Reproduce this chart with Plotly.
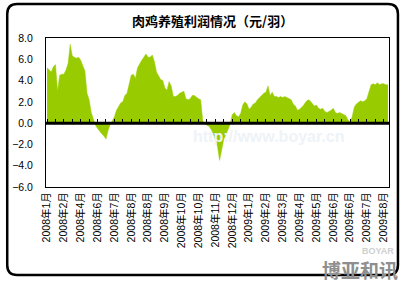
import plotly.graph_objects as go

title_text = "肉鸡养殖利润情况（元/羽）"

tick_labels = ["2008年1月", "2008年2月", "2008年4月", "2008年6月", "2008年7月",
               "2008年8月", "2008年8月", "2008年9月", "2008年10月", "2008年10月",
               "2008年11月", "2008年12月", "2009年1月", "2009年2月", "2009年3月",
               "2009年4月", "2009年5月", "2009年6月", "2009年6月", "2009年7月",
               "2009年8月"]

profit = [
    5.2, 5.0, 4.8, 5.3, 5.5, 3.0, 4.5, 4.6, 4.6, 5.0,
    5.6, 7.4, 6.3, 6.2, 6.1, 6.2, 5.9, 5.4, 4.9, 2.8,
    2.2, 1.0, 0.3, -0.2, -0.5, -0.8, -1.0, -1.2, -1.5, -0.7,
    -0.1, 0.2, 0.6, 1.2, 1.6, 1.9, 2.0, 2.6, 2.8, 3.6,
    4.5, 4.6, 4.2, 5.2, 5.6, 5.9, 6.2, 6.5, 6.2, 6.2,
    6.4, 5.8, 4.8, 4.5, 4.1, 4.0, 3.3, 3.1, 3.9, 3.5,
    2.5, 2.5, 2.6, 2.8, 2.9, 3.0, 2.3, 2.2, 2.3, 2.6,
    2.6, 2.4, 2.3, 2.2, 0.2, -0.1, -0.2, -0.3, -0.6, -1.0,
    -1.6, -2.2, -3.5, -2.3, -1.5, -1.1, -0.6, -0.1, 0.8, 1.0,
    0.7, 0.6, 0.9, 1.7, 2.0, 1.8, 1.3, 1.5, 1.8, 1.9,
    2.2, 2.4, 2.6, 2.8, 2.9, 3.5, 2.6, 2.9, 2.5, 2.5,
    2.4, 2.5, 2.4, 2.5, 2.4, 2.3, 2.2, 1.8, 1.6, 1.2,
    1.3, 1.5, 1.7, 2.0, 2.2, 2.1, 1.8, 1.6, 1.7, 1.4,
    1.3, 1.4, 1.1, 1.0, 1.1, 1.2, 1.4, 1.0, 0.9, 1.0,
    0.9, 0.8, 0.7, 0.3, 0.1, 0.6, 1.5, 1.8, 2.0, 2.1,
    2.0, 2.1, 2.3, 3.0, 3.6, 3.7, 3.6, 3.8, 3.6, 3.7,
    3.7, 3.6, 3.6,
]

label_step = 8
n = len(profit)
xs = list(range(n))
tickvals = [i * label_step for i in range(len(tick_labels))]
minor_ticks = list(range(0, n, 4))

W, H = 405, 283
ML, MR, MT, MB = 44, 16, 38, 96
PW, PH = W - ML - MR, H - MT - MB

def px(x):
    return (x - ML) / PW

def py(y):
    return (H - MB - y) / PH

fig = go.Figure()
fig.add_trace(go.Scatter(
    x=xs, y=profit, mode="lines", fill="tozeroy",
    fillcolor="#99cc00", line=dict(color="#99cc00", width=0.5),
    showlegend=False, hoverinfo="skip",
))
fig.add_trace(go.Scatter(x=[0], y=[0], xaxis="x2", mode="markers",
                         marker=dict(opacity=0), showlegend=False, hoverinfo="skip"))

fig.update_layout(
    width=W, height=H,
    margin=dict(l=ML, r=MR, t=MT, b=MB),
    paper_bgcolor="white", plot_bgcolor="white",
    title=dict(text="<b>" + title_text + "</b>", x=0.525, xanchor="center",
               y=1 - 21 / H, yanchor="middle",
               font=dict(family="Noto Sans CJK SC", size=13, color="black")),
    xaxis=dict(range=[-0.5, n - 0.5], tickmode="array", tickvals=tickvals,
               ticktext=tick_labels, tickangle=-90,
               tickfont=dict(family="Arial, Noto Sans CJK SC", size=10.5, color="black"),
               showgrid=False, zeroline=False, showline=True, mirror=True,
               linecolor="black", linewidth=1, ticks=""),
    xaxis2=dict(overlaying="x", matches="x", anchor="free", position=6 / 14,
                tickmode="array", tickvals=minor_ticks, ticks="inside",
                ticklen=4, tickcolor="black", tickwidth=1,
                showticklabels=False, showgrid=False, zeroline=False,
                showline=False),
    yaxis=dict(range=[-6, 8], dtick=2, tick0=0, tickformat=".1f",
               tickfont=dict(family="Arial", size=10.5, color="black"),
               showgrid=False, zeroline=False, showline=True, mirror=True,
               linecolor="black", linewidth=1, ticks="", ticklabelstandoff=10),
)

fig.add_shape(type="line", xref="x domain", yref="y", x0=0, x1=1, y0=0, y1=0,
              line=dict(color="black", width=3), layer="above")

fig.add_annotation(text="<b>http://www.boyar.cn</b>", xref="paper", yref="paper",
                   x=px(268), y=py(136), showarrow=False,
                   font=dict(family="Arial", size=16, color="#eef3f8"))

fig.add_annotation(text="<b>BOYAR</b>", xref="paper", yref="paper",
                   x=px(396), y=py(250.5), xanchor="right", yanchor="middle",
                   showarrow=False,
                   font=dict(family="Arial", size=9, color="#cfcfcf"))
fig.add_annotation(text="<b>博亚和讯</b>", xref="paper", yref="paper",
                   x=px(400), y=py(269.5), xanchor="right", yanchor="middle",
                   showarrow=False,
                   font=dict(family="Noto Sans CJK SC", size=19, color="#8f8f8f"))

x0, y0, x1, y1, r = 5, 4, 398, 275, 10
path = (f"M {px(x0+r)},{py(y0)} L {px(x1-r)},{py(y0)} "
        f"Q {px(x1)},{py(y0)} {px(x1)},{py(y0+r)} "
        f"L {px(x1)},{py(y1-r)} Q {px(x1)},{py(y1)} {px(x1-r)},{py(y1)} "
        f"L {px(x0+r)},{py(y1)} Q {px(x0)},{py(y1)} {px(x0)},{py(y1-r)} "
        f"L {px(x0)},{py(y0+r)} Q {px(x0)},{py(y0)} {px(x0+r)},{py(y0)} Z")
fig.add_shape(type="path", xref="paper", yref="paper", path=path,
              line=dict(color="black", width=2.5), layer="above")

fig.write_html("out.html")
